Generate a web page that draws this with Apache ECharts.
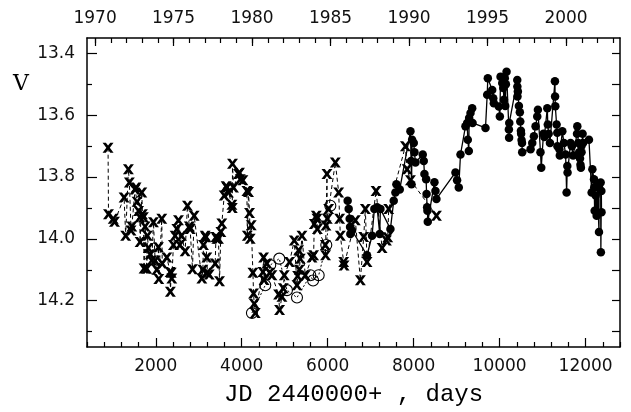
<!DOCTYPE html>
<html>
<head>
<meta charset="utf-8">
<script src="https://cdn.jsdelivr.net/npm/echarts@6/dist/echarts.min.js"></script>
<style>
  html, body { margin: 0; padding: 0; background: #fff; }
  #chart { width: 631px; height: 412px; }
</style>
</head>
<body>
<div id="chart"></div>
<script>
// light curve: JD - 2440000 vs V magnitude
const crosses = [
  [890, 13.705], [900, 13.92], [1010, 13.935], [1040, 13.945], [1263, 13.866],
  [1300, 13.99], [1363, 13.775], [1386, 13.818], [1425, 13.973], [1442, 13.96],
  [1519, 13.84], [1542, 13.834], [1565, 13.88], [1600, 13.91], [1630, 13.93],
  [1635, 14.01], [1675, 13.85], [1690, 13.92], [1712, 13.93], [1728, 14.096],
  [1752, 13.96], [1791, 14.097], [1806, 13.99], [1829, 14.03], [1870, 14.05],
  [1908, 14.07], [1946, 13.946], [1985, 14.07], [2024, 14.10], [2062, 14.027],
  [2070, 14.13], [2140, 13.935], [2150, 14.08], [2257, 14.06], [2334, 14.107],
  [2340, 14.171], [2360, 14.11], [2373, 14.128], [2411, 14.02], [2450, 13.99],
  [2490, 13.968], [2528, 13.94], [2560, 14.02], [2600, 13.99], [2683, 14.04],
  [2737, 13.893], [2780, 13.96], [2800, 13.968], [2854, 14.098], [2893, 13.925],
  [3072, 14.128], [3095, 14.10], [3110, 14.02], [3150, 13.99], [3165, 13.995],
  [3188, 14.06], [3200, 14.11], [3243, 14.115], [3382, 14.08], [3400, 13.994],
  [3421, 14.0], [3459, 14.0], [3483, 14.137], [3515, 13.978], [3537, 13.95],
  [3592, 13.86], [3638, 13.83], [3654, 13.834], [3692, 13.85], [3771, 13.89],
  [3780, 13.90], [3785, 13.757], [3809, 13.834], [3925, 13.79], [3948, 13.786],
  [3965, 13.807], [4027, 13.81], [4120, 13.845], [4130, 13.99], [4158, 13.848],
  [4181, 13.916], [4197, 14.0], [4221, 13.956], [4260, 14.11], [4275, 14.177],
  [4290, 14.21], [4314, 14.24], [4493, 14.107], [4508, 14.06], [4520, 14.133],
  [4586, 14.08], [4650, 14.11], [4703, 14.118], [4857, 14.18], [4880, 14.23],
  [4935, 14.187], [4966, 14.16], [4990, 14.118], [5113, 14.075], [5222, 14.005],
  [5285, 14.15], [5300, 14.12], [5323, 14.037], [5340, 14.10], [5362, 14.064],
  [5401, 13.99], [5478, 14.118], [5634, 14.06], [5672, 14.053], [5688, 13.952],
  [5735, 13.925], [5750, 13.935], [5760, 13.968], [5944, 14.02], [5950, 14.053],
  [5960, 13.957], [5983, 13.79], [5990, 13.935], [6022, 13.903], [6177, 13.753],
  [6255, 13.85], [6278, 13.935], [6294, 13.99], [6371, 14.075], [6380, 14.086],
  [6643, 13.94], [6760, 14.134], [6837, 13.994], [6876, 13.903], [6915, 14.075],
  [7125, 13.845], [7265, 14.03], [7366, 14.005], [7396, 13.995], [7419, 13.903],
  [7808, 13.70], [7847, 13.775], [7925, 13.81], [8530, 13.925]
];

const openCircles = [
  [4237, 14.24], [4547, 14.15], [4663, 14.085], [4873, 14.064], [5052, 14.166],
  [5285, 14.19], [5595, 14.118], [5660, 14.135], [5790, 14.118], [5967, 14.02],
  [6061, 13.893]
];

const filled = [
  [6464, 13.877], [6488, 13.903], [6511, 13.935], [6520, 13.962], [6527, 13.984],
  [6566, 13.973], [6915, 14.053], [7032, 13.99], [7086, 13.903], [7149, 13.898],
  [7210, 13.984], [7226, 13.903], [7459, 13.968], [7536, 13.877], [7575, 13.85],
  [7598, 13.823], [7676, 13.84], [7925, 13.652], [7940, 13.748], [7950, 13.823],
  [7964, 13.679], [8002, 13.69], [8018, 13.72], [8041, 13.753], [8211, 13.727],
  [8234, 13.748], [8250, 13.79], [8290, 13.807], [8300, 13.855], [8313, 13.898],
  [8320, 13.909], [8328, 13.945], [8483, 13.817], [8507, 13.845], [8530, 13.871],
  [8972, 13.785], [9010, 13.81], [9049, 13.834], [9089, 13.727], [9205, 13.636],
  [9245, 13.625], [9259, 13.679], [9283, 13.716], [9290, 13.609], [9322, 13.593],
  [9361, 13.577], [9370, 13.625], [9671, 13.641], [9710, 13.534], [9725, 13.48],
  [9827, 13.518], [9851, 13.545], [9865, 13.561], [9981, 13.572], [10005, 13.604],
  [10021, 13.475], [10060, 13.496], [10084, 13.512], [10100, 13.55], [10120, 13.48],
  [10130, 13.57], [10145, 13.50], [10161, 13.459], [10215, 13.646], [10220, 13.673],
  [10224, 13.625], [10410, 13.486], [10412, 13.507], [10415, 13.539], [10424, 13.523],
  [10448, 13.57], [10470, 13.59], [10480, 13.62], [10495, 13.65], [10500, 13.66],
  [10510, 13.68], [10520, 13.69], [10525, 13.72], [10720, 13.71], [10759, 13.69],
  [10797, 13.668], [10836, 13.636], [10875, 13.604], [10890, 13.582], [10950, 13.72],
  [10968, 13.77], [11020, 13.66], [11040, 13.67], [11109, 13.577], [11120, 13.63],
  [11140, 13.66], [11170, 13.69], [11286, 13.49], [11290, 13.539], [11295, 13.571],
  [11325, 13.63], [11341, 13.657], [11345, 13.70], [11390, 13.71], [11400, 13.73],
  [11458, 13.652], [11496, 13.69], [11535, 13.727], [11558, 13.85], [11574, 13.764],
  [11580, 13.785], [11650, 13.69], [11680, 13.70], [11710, 13.73], [11800, 13.66],
  [11807, 13.636], [11830, 13.69], [11850, 13.72], [11870, 13.74], [11880, 13.76],
  [11890, 13.77], [11900, 13.70], [11905, 13.72], [11930, 13.66], [11940, 13.69],
  [12078, 13.679], [12140, 13.85], [12157, 13.775], [12195, 13.807], [12200, 13.834],
  [12210, 13.909], [12234, 13.86], [12257, 13.925], [12273, 13.823], [12311, 13.978],
  [12312, 13.834], [12350, 13.818], [12355, 14.043], [12366, 13.845], [12370, 13.914]
];

const jdMajor = [2000, 4000, 6000, 8000, 10000, 12000];
const jdMinor = [400, 800, 1200, 1600, 2400, 2800, 3200, 3600, 4400, 4800, 5200, 5600,
  6400, 6800, 7200, 7600, 8400, 8800, 9200, 9600, 10400, 10800, 11200, 11600, 12400, 12800];
const yearMajor = [1970, 1975, 1980, 1985, 1990, 1995, 2000];
const yearMinor = [1970, 1971, 1972, 1973, 1974, 1975, 1976, 1977, 1978, 1979, 1980,
  1981, 1982, 1983, 1984, 1985, 1986, 1987, 1988, 1989, 1990, 1991, 1992, 1993, 1994,
  1995, 1996, 1997, 1998, 1999, 2000, 2001, 2002, 2003];
const magMajor = [13.4, 13.6, 13.8, 14.0, 14.2];
const magMinor = [13.5, 13.7, 13.9, 14.1, 14.3];
const magRight = [13.4, 13.5, 13.6, 13.7, 13.8, 13.9, 14.0, 14.1, 14.2, 14.3];

// year -> JD-2440000 (1970.0 = JD 2440587.5)
const yearToJd = (y) => (y - 1970) * 365.25 + 587.5;
const jdToYear = (d) => Math.round((d - 587.5) / 365.25 + 1970);

// bold "x" marker
const X_PATH = 'path://M0,0L3,0L5,2.9L7,0L10,0L6.6,5L10,10L7,10L5,7.1L3,10L0,10L3.4,5Z';
const labelFont = { fontFamily: 'DejaVu Sans', fontSize: 17, color: '#111' };
const frame = { show: true, onZero: false, lineStyle: { color: '#000', width: 1.5 } };

const chart = echarts.init(document.getElementById('chart'), null, { renderer: 'canvas' });

const xBase = { type: 'value', min: 400, max: 12800, splitLine: { show: false } };
const yBase = { type: 'value', min: 13.35, max: 14.35, inverse: true, splitLine: { show: false } };

chart.setOption({
  animation: false,
  backgroundColor: '#fff',
  grid: { left: 87, right: 11, top: 38, bottom: 63 },
  xAxis: [
    Object.assign({}, xBase, {
      position: 'bottom',
      axisLine: frame,
      axisTick: { inside: true, length: 9, customValues: jdMajor, lineStyle: { color: '#000', width: 1.2 } },
      axisLabel: Object.assign({
        customValues: jdMajor,
        margin: 11,
        formatter: (v) => String(v)
      }, labelFont),
      name: 'JD 2440000+ , days',
      nameLocation: 'middle',
      nameGap: 36,
      nameTextStyle: { fontFamily: 'Liberation Mono', fontSize: 24, color: '#000' }
    }),
    Object.assign({}, xBase, {
      position: 'bottom',
      axisLine: { show: false },
      axisTick: { inside: true, length: 5, customValues: jdMinor, lineStyle: { color: '#000', width: 1.2 } },
      axisLabel: { show: false }
    }),
    Object.assign({}, xBase, {
      position: 'top',
      axisLine: frame,
      axisTick: { inside: true, length: 8, customValues: yearMajor.map(yearToJd), lineStyle: { color: '#000', width: 1.2 } },
      axisLabel: Object.assign({
        customValues: yearMajor.map(yearToJd),
        margin: 11,
        formatter: (v) => String(jdToYear(v))
      }, labelFont)
    }),
    Object.assign({}, xBase, {
      position: 'top',
      axisLine: { show: false },
      axisTick: { inside: true, length: 5, customValues: yearMinor.map(yearToJd), lineStyle: { color: '#000', width: 1.2 } },
      axisLabel: { show: false }
    })
  ],
  yAxis: [
    Object.assign({}, yBase, {
      position: 'left',
      axisLine: frame,
      axisTick: { inside: true, length: 10, customValues: magMajor, lineStyle: { color: '#000', width: 1.2 } },
      axisLabel: Object.assign({
        customValues: magMajor,
        margin: 12,
        formatter: (v) => v.toFixed(1)
      }, labelFont)
    }),
    Object.assign({}, yBase, {
      position: 'left',
      axisLine: { show: false },
      axisTick: { inside: true, length: 5, customValues: magMinor, lineStyle: { color: '#000', width: 1.2 } },
      axisLabel: { show: false }
    }),
    Object.assign({}, yBase, {
      position: 'right',
      axisLine: frame,
      axisTick: { inside: true, length: 8, customValues: magRight, lineStyle: { color: '#000', width: 1.2 } },
      axisLabel: { show: false }
    })
  ],
  graphic: [{
    type: 'text',
    left: 13,
    top: 73,
    style: { text: 'V', fontFamily: 'DejaVu Serif', fontSize: 22, fill: '#000' }
  }],
  series: [
    {
      type: 'line', data: crosses, symbol: 'none', z: 2,
      lineStyle: { color: '#000', width: 1, type: [4, 3] }
    },
    {
      type: 'scatter', data: crosses, symbol: X_PATH, symbolSize: [11, 10], z: 5,
      itemStyle: { color: '#000', opacity: 1 }
    },
    {
      type: 'line', data: openCircles, symbol: 'none', z: 2,
      lineStyle: { color: '#000', width: 1, type: [2, 2] }
    },
    {
      type: 'scatter', data: openCircles, symbol: 'circle', symbolSize: 11, z: 6,
      itemStyle: { color: 'rgba(0,0,0,0)', borderColor: '#000', borderWidth: 1.1, opacity: 1 }
    },
    {
      type: 'line', data: filled, symbol: 'none', z: 3,
      lineStyle: { color: '#000', width: 1.3 }
    },
    {
      type: 'scatter', data: filled, symbol: 'circle', symbolSize: 8.5, z: 7,
      itemStyle: { color: '#000', opacity: 1 }
    }
  ]
});
</script>
</body>
</html>
